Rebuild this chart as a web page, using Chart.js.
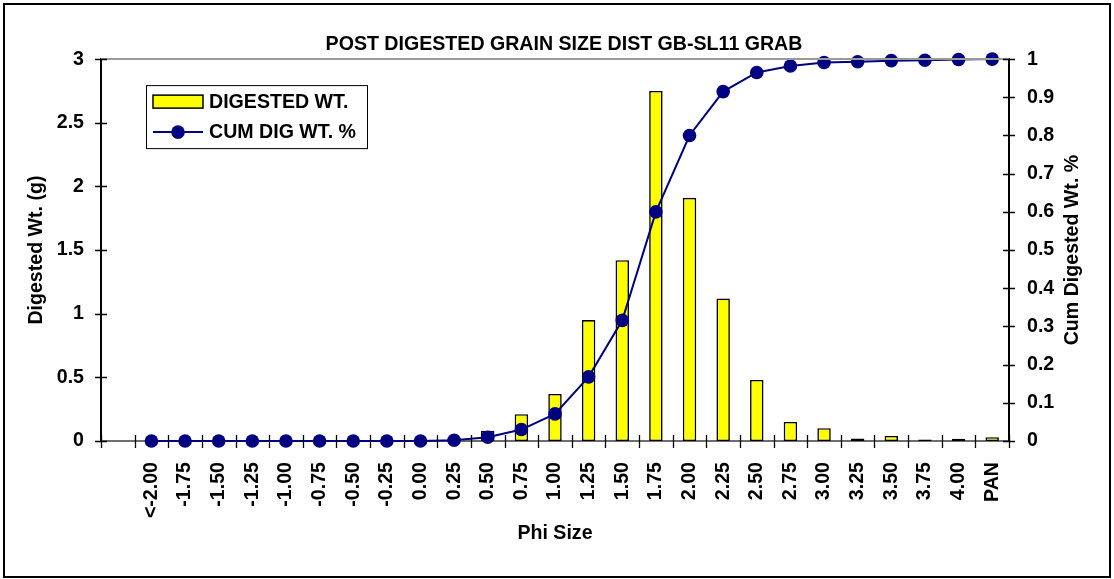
<!DOCTYPE html>
<html>
<head>
<meta charset="utf-8">
<title>Post Digested Grain Size Dist</title>
<script src="https://cdn.jsdelivr.net/npm/chart.js@4/dist/chart.umd.min.js"></script>
<style>
  html, body { margin: 0; padding: 0; background: #fff; }
  canvas { display: block; }
</style>
</head>
<body>
<canvas id="chart" width="1114" height="579"></canvas>
<script>
// Phi size classes (sieve sizes) and the weights measured after digestion
const phiSizes = ['<-2.00', '-1.75', '-1.50', '-1.25', '-1.00', '-0.75', '-0.50', '-0.25', '0.00', '0.25',
  '0.50', '0.75', '1.00', '1.25', '1.50', '1.75', '2.00', '2.25', '2.50', '2.75',
  '3.00', '3.25', '3.50', '3.75', '4.00', 'PAN'];
const digestedWt = [0, 0, 0, 0, 0, 0, 0, 0, 0, 0.02,
  0.08, 0.21, 0.37, 0.95, 1.42, 2.75, 1.91, 1.12, 0.48, 0.15,
  0.10, 0.02, 0.04, 0.012, 0.018, 0.03];
const cumDigWt = [0, 0, 0, 0, 0, 0, 0, 0, 0, 0.002,
  0.01, 0.03, 0.071, 0.168, 0.316, 0.60, 0.80, 0.915, 0.965, 0.982,
  0.991, 0.993, 0.996, 0.997, 0.999, 1.0];

const FONT = "'Liberation Sans', Arial, Helvetica, sans-serif";
const FS = 19.6;
Chart.defaults.font.family = FONT;
Chart.defaults.font.size = FS;
Chart.defaults.font.weight = 'bold';
Chart.defaults.color = '#000';

// the axis starts with one empty slot before the first class
const labels = [''].concat(phiSizes);
const barData = [null].concat(digestedWt);
const lineData = [null].concat(cumDigWt);

const trimNum = v => String(Number(v.toFixed(2)));

// white page, outer frame, top edge, crossing tick marks, right title and legend box
const decorations = {
  id: 'decorations',
  beforeDraw(chart) {
    const ctx = chart.ctx;
    ctx.save();
    ctx.fillStyle = '#fff';
    ctx.fillRect(0, 0, chart.width, chart.height);
    ctx.restore();
  },
  afterDraw(chart) {
    const { ctx, chartArea: a, scales } = chart;
    ctx.save();

    // grey top edge of the plot
    ctx.strokeStyle = '#9a9a9a';
    ctx.lineWidth = 2;
    ctx.beginPath();
    ctx.moveTo(a.left, a.top);
    ctx.lineTo(a.right, a.top);
    ctx.stroke();

    // tick marks crossing the axes
    ctx.strokeStyle = '#000';
    ctx.lineWidth = 1.3;
    ctx.beginPath();
    scales.y.ticks.forEach((t, i) => {
      const py = Math.round(scales.y.getPixelForTick(i)) + 0.5;
      ctx.moveTo(a.left - 6, py);
      ctx.lineTo(a.left + 6, py);
    });
    scales.y1.ticks.forEach((t, i) => {
      const py = Math.round(scales.y1.getPixelForTick(i)) + 0.5;
      ctx.moveTo(a.right - 6, py);
      ctx.lineTo(a.right + 6, py);
    });
    for (let i = 0; i <= labels.length; i++) {
      const px = Math.round(scales.x.getPixelForValue(i - 0.5)) + 0.5;
      ctx.moveTo(px, a.bottom - 6);
      ctx.lineTo(px, a.bottom + 7);
    }
    ctx.stroke();

    // right axis title, reading upwards
    ctx.font = 'bold ' + FS + 'px ' + FONT;
    ctx.fillStyle = '#000';
    ctx.textAlign = 'center';
    ctx.textBaseline = 'middle';
    ctx.save();
    ctx.translate(1073, (a.top + a.bottom) / 2);
    ctx.rotate(-Math.PI / 2);
    ctx.fillText('Cum Digested Wt. %', 0, 0);
    ctx.restore();

    // legend
    const bar = chart.data.datasets[1];
    const line = chart.data.datasets[0];
    const lx = a.left + 45, ly = a.top + 26;
    ctx.fillStyle = '#fff';
    ctx.fillRect(lx, ly, 221, 63);
    ctx.strokeStyle = '#000';
    ctx.lineWidth = 1;
    ctx.strokeRect(lx + 0.5, ly + 0.5, 221, 63);

    ctx.fillStyle = bar.backgroundColor;
    ctx.fillRect(lx + 7, ly + 10, 50, 13);
    ctx.lineWidth = 1.5;
    ctx.strokeStyle = bar.borderColor;
    ctx.strokeRect(lx + 7, ly + 10, 50, 13);

    ctx.strokeStyle = line.borderColor;
    ctx.lineWidth = line.borderWidth;
    ctx.beginPath();
    ctx.moveTo(lx + 7, ly + 47);
    ctx.lineTo(lx + 57, ly + 47);
    ctx.stroke();
    ctx.fillStyle = line.pointBackgroundColor;
    ctx.beginPath();
    ctx.arc(lx + 32, ly + 47, line.pointRadius, 0, Math.PI * 2);
    ctx.fill();

    ctx.fillStyle = '#000';
    ctx.textAlign = 'left';
    ctx.fillText(bar.label, lx + 63, ly + 17);
    ctx.fillText(line.label, lx + 63, ly + 47);

    // outer frame
    ctx.strokeStyle = '#000';
    ctx.lineWidth = 2;
    ctx.strokeRect(4, 4, chart.width - 8, chart.height - 6);
    ctx.restore();
  }
};

const ctx = document.getElementById('chart').getContext('2d');
new Chart(ctx, {
  type: 'bar',
  data: {
    labels: labels,
    datasets: [
      {
        type: 'line',
        label: 'CUM DIG WT. %',
        data: lineData,
        yAxisID: 'y1',
        borderColor: '#000080',
        borderWidth: 2,
        pointBackgroundColor: '#000080',
        pointBorderColor: '#000080',
        pointBorderWidth: 0,
        pointRadius: 6.8,
        tension: 0,
        clip: false,
        order: 0
      },
      {
        type: 'bar',
        label: 'DIGESTED WT.',
        data: barData,
        yAxisID: 'y',
        backgroundColor: '#ffff00',
        borderColor: '#000',
        borderWidth: 1.6,
        borderSkipped: false,
        categoryPercentage: 1,
        barPercentage: 0.4,
        order: 1
      }
    ]
  },
  options: {
    responsive: false,
    animation: false,
    layout: { padding: { left: 14, top: 0, right: 0, bottom: 0 } },
    plugins: {
      legend: { display: false },
      tooltip: { enabled: false },
      title: {
        display: true,
        text: 'POST DIGESTED GRAIN SIZE DIST GB-SL11 GRAB',
        color: '#000',
        font: { size: FS, weight: 'bold' },
        padding: { top: 33, bottom: 2.6 }
      }
    },
    scales: {
      x: {
        grid: { display: false },
        border: { display: true, color: '#6e6e6e', width: 2 },
        ticks: {
          autoSkip: false,
          minRotation: 90,
          maxRotation: 90,
          padding: 13,
          color: '#000'
        },
        title: {
          display: true,
          text: 'Phi Size',
          color: '#000',
          padding: { top: 0, bottom: 34 }
        },
        afterFit: s => { s.height = 138; }
      },
      y: {
        position: 'left',
        min: 0,
        max: 3,
        grid: { display: false, drawTicks: false },
        border: { display: true, color: '#000', width: 2 },
        ticks: {
          stepSize: 0.5,
          padding: 17,
          color: '#000',
          callback: v => trimNum(v)
        },
        title: {
          display: true,
          text: 'Digested Wt. (g)',
          color: '#000',
          padding: { top: 11, bottom: 0 }
        },
        afterFit: s => { s.width = 87; }
      },
      y1: {
        position: 'right',
        min: 0,
        max: 1,
        grid: { display: false, drawTicks: false },
        border: { display: true, color: '#000', width: 2 },
        ticks: {
          stepSize: 0.1,
          padding: 18,
          color: '#000',
          callback: v => trimNum(v)
        },
        afterFit: s => { s.width = 105; }
      }
    }
  },
  plugins: [decorations]
});
</script>
</body>
</html>
